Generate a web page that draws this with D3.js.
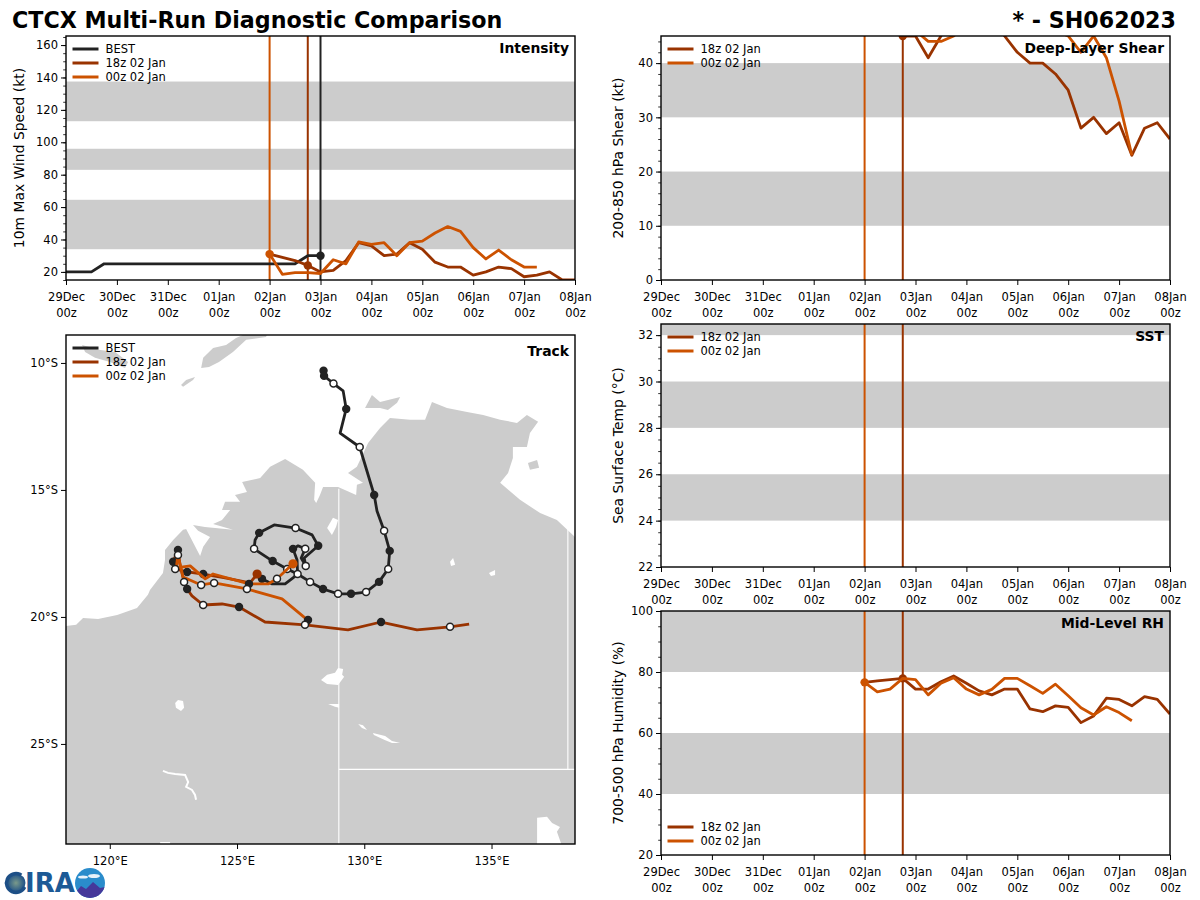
<!DOCTYPE html>
<html><head><meta charset="utf-8">
<script src="https://cdnjs.cloudflare.com/ajax/libs/d3/7.8.5/d3.min.js"></script>
<style>html,body{margin:0;padding:0;background:#fff}svg{display:block}text{font-family:"DejaVu Sans",sans-serif;fill:#000}</style>
</head><body><svg id="c" width="1200" height="900"></svg>
<script>
const dayLabels=["29Dec","30Dec","31Dec","01Jan","02Jan","03Jan","04Jan","05Jan","06Jan","07Jan","08Jan"];
const runLabels=["BEST","18z 02 Jan","00z 02 Jan"];
const colors={best:"#222222",r18:"#993300",r00:"#cc5200",band:"#cccccc"};
// hours since 29 Dec 00z at which each series begins; 6-hourly values
const bestStart=0, runStart=96;
const run18Init=114, run00Init=96, bestInit=120;
const bestWind=[20,20,20,25,25,25,25,25,25,25,25,25,25,25,25,25,25,25,25,30,30];
const r18Wind=[31,29,27,24,20,21,27,38,36,30,31,38,34,26,23,23,18,20,23,22,17,18,20,15,15];
const r00Wind=[31,18.5,19.5,19.5,19,27.5,25,38.5,37,38,30,38,39,44,48,45,35,28,33.5,27.5,23,23];
const r18Shear=[50,48,46,45,45,41,45,48,50,50,48,45,42,40,40,38,35,28,30,27,29,23,28,29,26];
const r00Shear=[50,52,50,48,46,44,44,45,47,50,52,52,52,50,48,46,45,42,45,41,33,23];
const r18RH=[76.6,77.1,77.5,77.9,74.4,74.4,76.8,78.7,76.3,73.8,72.5,74.4,74.4,67.9,67,68.9,68.4,63.4,65.6,71.4,71,68.9,71.9,71,66.2];
const r00RH=[76.6,73.5,74.4,77.9,77.5,72.5,76.3,78.1,74.4,72.5,74.3,77.9,77.9,75.5,73,76,72.2,68.3,65.9,68.6,66.7,64];
const windBands=[[34,64.5],[83,96],[113,137.5]];
const shearBands=[[10,20],[30,40]];
const sstBands=[[24,26],[28,30],[32,33]];
const rhBands=[[40,60],[80,100]];
// tracks: lon, lat, marker (0 none, 1 filled, 2 open, 3 run start)
const bestLon=[128.40,128.42,128.79,129.17,129.29,129.05,129.82,130.39,130.50,130.78,131.00,130.94,130.58,130.07,129.48,128.97,128.38,127.87,127.38,126.97,126.40,125.67,125.71,125.87,126.46,127.30,127.95,128.19,127.64,127.70,127.52,127.68,127.40,127.20,127.36,127.38,127.20,126.89,126.38,125.98];
const bestLat=[-10.31,-10.51,-10.81,-11.10,-11.81,-12.76,-13.31,-15.20,-15.83,-16.61,-17.40,-18.11,-18.62,-19.02,-19.09,-19.09,-18.90,-18.62,-18.31,-18.11,-17.80,-17.32,-16.97,-16.69,-16.38,-16.50,-16.77,-17.20,-17.68,-17.99,-17.68,-17.32,-17.20,-17.32,-17.76,-18.31,-18.46,-18.70,-18.70,-18.50];
const bestMark=[1,1,2,0,1,0,2,1,0,2,1,2,1,2,1,2,1,2,2,2,1,2,0,1,0,2,0,1,0,2,0,2,0,1,0,0,0,0,0,1];
const r18Lon=[125.79,125.51,124.53,123.67,123.04,122.57,122.49,122.68,122.76,122.92,123.04,123.23,123.67,124.41,125.08,126.10,127.67,129.36,130.66,132.07,133.37,134.12];
const r18Lat=[-18.31,-18.66,-18.46,-18.31,-18.23,-18.11,-17.83,-17.36,-17.95,-18.62,-18.90,-19.17,-19.53,-19.49,-19.61,-20.20,-20.31,-20.51,-20.20,-20.51,-20.39,-20.28];
const r18Mark=[3,0,0,1,1,2,1,1,0,2,1,0,2,0,1,0,2,0,1,0,2,0];
const r00Lon=[127.20,126.57,126.22,125.47,124.06,123.75,123.16,122.61,122.68,122.88,123.59,124.10,125.39,126.77,127.67,127.79];
const r00Lat=[-17.91,-18.50,-18.70,-18.70,-18.31,-18.50,-17.99,-18.07,-17.56,-18.43,-18.74,-18.66,-18.90,-19.29,-20.04,-20.12];
const r00Mark=[3,2,0,1,0,0,0,0,2,0,2,2,2,0,0,1];
// land (lon,lat)
const mainland=[[118.04,-20.39],[118.68,-20.31],[118.95,-20.04],[119.54,-20.08],[120.29,-19.92],[121.07,-19.65],[121.50,-19.13],[121.58,-18.94],[122.09,-18.27],[122.17,-17.76],[122.17,-17.36],[122.49,-16.97],[122.88,-16.57],[123.00,-16.54],[123.55,-17.60],[123.67,-17.24],[123.94,-16.85],[123.47,-16.61],[123.27,-16.38],[123.74,-16.46],[124.84,-16.57],[124.06,-16.34],[124.41,-16.18],[124.73,-15.79],[124.41,-15.79],[124.53,-15.47],[125.12,-15.47],[124.92,-15.20],[125.39,-15.08],[125.20,-14.69],[125.91,-14.53],[126.30,-14.09],[126.89,-13.78],[127.59,-14.21],[128.07,-14.72],[128.03,-15.39],[128.11,-15.51],[128.26,-15.20],[128.38,-14.88],[128.97,-14.88],[129.24,-15.00],[129.68,-15.20],[129.71,-14.80],[129.95,-14.72],[129.36,-14.33],[129.71,-14.09],[130.15,-13.15],[130.62,-12.56],[131.01,-12.17],[131.80,-12.24],[132.39,-12.24],[132.66,-11.54],[133.25,-11.77],[134.04,-11.93],[134.67,-12.05],[135.34,-12.24],[136.00,-12.36],[136.39,-12.05],[136.83,-12.32],[136.51,-12.76],[136.39,-13.31],[135.84,-13.31],[135.84,-13.74],[135.65,-14.33],[135.34,-14.72],[136.12,-15.39],[136.91,-15.91],[137.57,-16.18],[138.28,-16.85],[138.67,-16.97],[138.67,-29.17],[118.05,-29.17]];
const islands=[
 [[118.91,-9.29],[119.62,-9.49],[120.21,-9.57],[120.72,-9.96],[120.60,-10.20],[120.01,-9.96],[119.42,-9.80],[119.03,-9.57]],
 [[123.59,-10.20],[123.67,-9.80],[124.06,-9.41],[124.57,-9.29],[124.96,-9.02],[125.51,-8.78],[126.22,-8.78],[126.14,-8.98],[125.36,-9.09],[124.84,-9.57],[124.29,-9.96],[123.90,-10.16]],
 [[122.80,-10.87],[123.00,-10.67],[123.35,-10.55],[123.27,-10.67],[122.88,-10.94]],
 [[130.03,-11.77],[130.30,-11.26],[130.62,-11.54],[131.41,-11.34],[131.29,-11.57],[130.93,-11.85],[130.62,-11.77]]
];
const lakes=[
 [[128.54,-16.50],[128.77,-16.10],[128.97,-16.18],[128.89,-16.46],[128.73,-16.77]],
 [[133.37,-17.83],[133.49,-17.68],[133.57,-17.95],[133.41,-17.99]],
 [[134.90,-18.27],[135.14,-18.15],[135.14,-18.35],[134.98,-18.39]],
 [[128.30,-22.48],[128.54,-22.28],[128.85,-22.20],[128.97,-22.01],[129.17,-22.05],[129.13,-22.28],[129.21,-22.36],[128.97,-22.68],[128.54,-22.64]],
 [[122.57,-23.39],[122.68,-23.27],[122.88,-23.31],[122.92,-23.58],[122.80,-23.70],[122.60,-23.58]],
 [[128.58,-23.43],[129.01,-23.43],[129.01,-23.58],[128.85,-23.54]],
 [[129.76,-24.22],[129.95,-24.26],[130.11,-24.45],[129.91,-24.37]],
 [[130.34,-24.57],[130.82,-24.69],[131.09,-24.88],[131.41,-24.96],[131.09,-24.96],[130.78,-24.84],[130.38,-24.65]],
 [[136.79,-27.91],[137.18,-27.87],[137.38,-28.11],[137.69,-28.27],[137.57,-28.46],[137.77,-29.02],[136.79,-29.02]],
 [[121.98,-28.86],[122.37,-28.86],[122.37,-29.0],[121.98,-29.0]]
];
const grooteIsland=[[136.43,-13.94],[136.79,-13.82],[136.87,-14.13],[136.51,-14.21]];
const saltLine=[[122.09,-26.06],[122.29,-26.14],[122.57,-26.18],[122.96,-26.22],[123.08,-26.50],[123.00,-26.69],[123.23,-26.81],[123.35,-27.01],[123.39,-27.20]];
const borders=[[[129,-14.95],[129,-29.2]],[[138,-16.5],[138,-26]],[[129,-26],[138.7,-26]]];
const lonTicks=[120,125,130,135];
const latTicks=[-10,-15,-20,-25];

const svg=d3.select("#c");
const defs=svg.append("defs");
let cid=0;
function label(g,x,y,t,anchor,size,weight,rot){
  const e=g.append("text").attr("x",x).attr("y",y).attr("text-anchor",anchor).attr("font-size",size).attr("font-weight",weight||"normal").text(t);
  if(rot!=null)e.attr("transform",`rotate(${rot},${x},${y})`);
  return e;
}
label(svg,12,27.5,"CTCX Multi-Run Diagnostic Comparison","start",22.2,"bold");
label(svg,1176,27.5,"* - SH062023","end",22.2,"bold");

function clip(x0,y0,w,h){const id="clip"+(cid++);defs.append("clipPath").attr("id",id).append("rect").attr("x",x0).attr("y",y0).attr("width",w).attr("height",h);return `url(#${id})`;}
function frame(g,x0,y0,w,h){g.append("rect").attr("x",x0).attr("y",y0).attr("width",w).attr("height",h).attr("fill","none").attr("stroke","#000").attr("stroke-width",1.4);}
function styleAxis(a){a.select(".domain").remove();a.selectAll("line").attr("stroke","#000").attr("stroke-width",1);a.selectAll("text").attr("font-size",11.5);}
function legend(g,x0,y0,items){
  items.forEach((it,i)=>{
    const y=y0+i*14;
    g.append("line").attr("x1",x0).attr("x2",x0+26).attr("y1",y).attr("y2",y).attr("stroke",it.c).attr("stroke-width",3);
    label(g,x0+33,y+4.2,it.t,"start",11.5);
  });
}
function ts(o){
  const g=svg.append("g");
  const x=d3.scaleLinear().domain([0,240]).range([o.x0,o.x0+509]);
  const y=d3.scaleLinear().domain(o.dom).range([o.y0+o.h,o.y0]);
  const cp=clip(o.x0,o.y0,509,o.h);
  const plot=g.append("g").attr("clip-path",cp);
  plot.selectAll(".b").data(o.bands).join("rect").attr("x",o.x0).attr("width",509).attr("y",d=>y(d[1])).attr("height",d=>y(d[0])-y(d[1])).attr("fill",colors.band);
  (o.vlines).forEach(v=>plot.append("line").attr("x1",x(v.t)).attr("x2",x(v.t)).attr("y1",o.y0).attr("y2",o.y0+o.h).attr("stroke",v.c).attr("stroke-width",2));
  const line=d3.line().x(d=>x(d[0])).y(d=>y(d[1]));
  o.series.forEach(s=>{
    const pts=s.v.map((v,i)=>[s.t0+6*i,v]);
    plot.append("path").attr("d",line(pts)).attr("fill","none").attr("stroke",s.c).attr("stroke-width",2.8).attr("stroke-linejoin","round");
    if(s.dot!=null){const p=pts.find(q=>q[0]===s.dot);plot.append("circle").attr("cx",x(p[0])).attr("cy",y(p[1])).attr("r",4.2).attr("fill",s.c);}
  });
  const xa=g.append("g").attr("transform",`translate(0,${o.y0+o.h})`).call(d3.axisBottom(x).tickValues(d3.range(0,241,24)).tickSize(5).tickPadding(3).tickFormat(""));
  xa.select(".domain").remove();xa.selectAll("line").attr("stroke","#000");
  xa.selectAll(".tick").append("text").attr("y",21).attr("text-anchor","middle").attr("font-size",11.5).text((d,i)=>dayLabels[i]);
  xa.selectAll(".tick").append("text").attr("y",37).attr("text-anchor","middle").attr("font-size",11.5).text("00z");
  const ya=g.append("g").attr("transform",`translate(${o.x0},0)`).call(d3.axisLeft(y).tickValues(o.ticks).tickSize(5).tickPadding(3));
  styleAxis(ya);
  const ym=g.append("g").attr("transform",`translate(${o.x0},0)`).call(d3.axisLeft(y).tickValues(o.minor).tickSize(2.8).tickFormat(""));
  ym.select(".domain").remove();ym.selectAll("line").attr("stroke","#000").attr("stroke-width",.8);
  frame(g,o.x0,o.y0,509,o.h);
  label(g,o.x0-(o.x0<100?42:38),o.y0+o.h/2,o.ylabel,"middle",13.9,"normal",-90);
  label(g,o.x0+503,o.ty,o.title,"end",13.9,"bold");
  legend(g,o.x0+6.5,o.ly,o.items);
}
const items3=[{t:runLabels[0],c:colors.best},{t:runLabels[1],c:colors.r18},{t:runLabels[2],c:colors.r00}];
const items2=items3.slice(1);
const v3=[{t:run00Init,c:colors.r00},{t:run18Init,c:colors.r18},{t:bestInit,c:colors.best}];
const v2=v3.slice(0,2);
ts({x0:66,y0:36,h:244,dom:[15,165.6],bands:windBands,ticks:d3.range(20,161,20),minor:d3.range(15,166,5),ylabel:"10m Max Wind Speed (kt)",title:"Intensity",ty:53,ly:49,items:items3,vlines:v3,
 series:[{v:bestWind,t0:bestStart,c:colors.best,dot:bestInit},{v:r18Wind,t0:runStart,c:colors.r18,dot:run18Init},{v:r00Wind,t0:runStart,c:colors.r00,dot:run00Init}]});
ts({x0:661,y0:36,h:244,dom:[0,45],bands:shearBands,ticks:d3.range(0,41,10),minor:d3.range(0,45,2),ylabel:"200-850 hPa Shear (kt)",title:"Deep-Layer Shear",ty:53,ly:49,items:items2,vlines:v2,
 series:[{v:r18Shear,t0:runStart,c:colors.r18,dot:run18Init},{v:r00Shear,t0:runStart,c:colors.r00,dot:run00Init}]});
ts({x0:661,y0:324,h:243,dom:[22,32.48],bands:sstBands,ticks:d3.range(22,33,2),minor:d3.range(22,32.5,.5),ylabel:"Sea Surface Temp (°C)",title:"SST",ty:341,ly:337,items:items2,vlines:v2,series:[]});
ts({x0:661,y0:611,h:244,dom:[20,100],bands:rhBands,ticks:d3.range(20,101,20),minor:d3.range(20,101,5),ylabel:"700-500 hPa Humidity (%)",title:"Mid-Level RH",ty:628,ly:827,items:items2,vlines:v2,
 series:[{v:r18RH,t0:runStart,c:colors.r18,dot:run18Init},{v:r00RH,t0:runStart,c:colors.r00,dot:run00Init}]});

// track
(function(){
  const g=svg.append("g");
  const x0=66,y0=335,s=509;
  const x=d3.scaleLinear().domain([118.28,138.28]).range([x0,x0+s]);
  const y=d3.scaleLinear().domain([-8.9,-28.94]).range([y0,y0+s]);
  const poly=d3.line().x(d=>x(d[0])).y(d=>y(d[1])).curve(d3.curveLinearClosed);
  const open=d3.line().x(d=>x(d[0])).y(d=>y(d[1]));
  const plot=g.append("g").attr("clip-path",clip(x0,y0,s,s));
  plot.append("path").attr("d",poly(mainland)).attr("fill",colors.band);
  islands.concat([grooteIsland]).forEach(p=>plot.append("path").attr("d",poly(p)).attr("fill",colors.band));
  lakes.forEach(p=>plot.append("path").attr("d",poly(p)).attr("fill","#fff"));
  plot.append("path").attr("d",open(saltLine)).attr("fill","none").attr("stroke","#fff").attr("stroke-width",2);
  borders.forEach(p=>plot.append("path").attr("d",open(p)).attr("fill","none").attr("stroke","#fff").attr("stroke-width",1.1));
  function track(lon,lat,mark,c){
    const pts=lon.map((v,i)=>[v,lat[i],mark[i]]);
    plot.append("path").attr("d",open(pts)).attr("fill","none").attr("stroke",c).attr("stroke-width",2.8).attr("stroke-linejoin","round");
    return pts;
  }
  function marks(pts,c){
    pts.filter(p=>p[2]===1).forEach(p=>plot.append("circle").attr("cx",x(p[0])).attr("cy",y(p[1])).attr("r",4.2).attr("fill","#222"));
    pts.filter(p=>p[2]===2).forEach(p=>plot.append("circle").attr("cx",x(p[0])).attr("cy",y(p[1])).attr("r",3.5).attr("fill","#fff").attr("stroke","#222").attr("stroke-width",1.5));
    pts.filter(p=>p[2]===3).forEach(p=>plot.append("circle").attr("cx",x(p[0])).attr("cy",y(p[1])).attr("r",4.6).attr("fill",c));
  }
  const pb=track(bestLon,bestLat,bestMark,colors.best); marks(pb,colors.best);
  const p18=track(r18Lon,r18Lat,r18Mark,colors.r18); marks(p18.filter(p=>p[2]!==2),colors.r18);
  const p00=track(r00Lon,r00Lat,r00Mark,colors.r00); marks(p00,colors.r00); marks(p18.filter(p=>p[2]===2),colors.r18);
  const xa=g.append("g").attr("transform",`translate(0,${y0+s})`).call(d3.axisBottom(x).tickValues(lonTicks).tickSize(5).tickPadding(8).tickFormat(d=>d+"°E"));
  styleAxis(xa);
  const ya=g.append("g").attr("transform",`translate(${x0},0)`).call(d3.axisLeft(y).tickValues(latTicks).tickSize(5).tickPadding(3).tickFormat(d=>(-d)+"°S"));
  styleAxis(ya);
  frame(g,x0,y0,s,s);
  label(g,569,356,"Track","end",13.9,"bold");
  legend(g,72.5,348,items3);
})();

// logo
(function(){
  const g=svg.append("g");
  const grad=defs.append("radialGradient").attr("id","globe");
  grad.append("stop").attr("offset","0").attr("stop-color","#7a9a8a");
  grad.append("stop").attr("offset","1").attr("stop-color","#1d4f86");
  g.append("circle").attr("cx",16).attr("cy",883).attr("r",9.5).attr("fill","url(#globe)").attr("stroke","#1d4f86").attr("stroke-width",3.5).attr("stroke-dasharray","46 14").attr("transform","rotate(25 16 883)");
  g.append("text").attr("x",25).attr("y",892).attr("font-size",26).attr("font-weight","bold").attr("font-family","Liberation Sans").style("fill","#1c5a96").text("IRA");
  g.append("circle").attr("cx",90).attr("cy",883).attr("r",15).attr("fill","#2a8ccb");
  g.append("ellipse").attr("cx",83).attr("cy",877).attr("rx",5).attr("ry",1.6).attr("fill","#e8f2fa");
  g.append("ellipse").attr("cx",94).attr("cy",876).attr("rx",6).attr("ry",2).attr("fill","#e8f2fa");
  defs.append("clipPath").attr("id","mtn").append("circle").attr("cx",90).attr("cy",883).attr("r",15);
  const mg=g.append("g").attr("clip-path","url(#mtn)");
  mg.append("path").attr("d","M75 893 L81 886 L86 889 L93 882 L100 888 L105 887 L105 900 L75 900 Z").attr("fill","#45389a");
})();
</script></body></html>
